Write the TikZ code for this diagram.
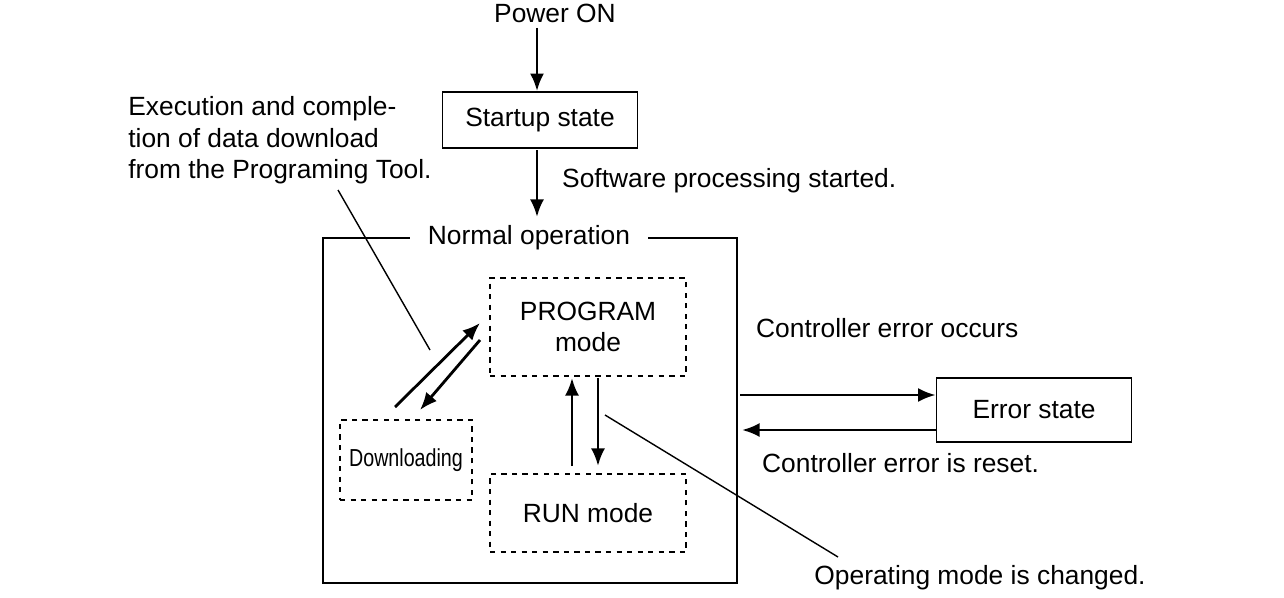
\documentclass[tikz,border=0pt]{standalone}
\usepackage{fontspec}
\setmainfont{Liberation Sans}
\usetikzlibrary{arrows.meta,positioning}
\begin{document}
\begin{tikzpicture}[x=0.02cm,y=-0.02cm,
    every node/.style={font=\fontsize{15}{18}\selectfont},
    state/.style={draw, line width=1pt, minimum width=3.9cm, minimum height=1.12cm},
    mode/.style={draw, dashed, line width=1pt, align=center},
    flow/.style={line width=1.6pt, -{Latex[length=10pt,width=8pt]}},
    leader/.style={line width=0.8pt}]
  \useasboundingbox (0,0) rectangle (1284,598);

  % Start-up
  \node (power) at (555,13) {Power ON};
  \node[state] (startup) at (540,120) {Startup state};
  \coordinate (p1) at (537,28);
  \coordinate (s1) at (537,150);
  \coordinate (n1) at (537,217);
  \draw[flow] (p1) -- (startup.north -| p1);
  \draw[flow] (s1) -- (n1);
  \node[anchor=west] (swtext) at (556,181) {Software processing started.};
  \node[anchor=north west, align=left, inner sep=0pt] (dltext) at (128,96)
    {Execution and comple-\\tion of data download\\from the Programing Tool.};

  % Normal operation
  \draw[line width=1pt] (323,238) rectangle (737,583);
  \node[fill=white, inner xsep=10pt, inner ysep=1pt] (normal) at (529,238) {Normal operation};
  \node[mode, minimum width=3.92cm, minimum height=1.96cm] (program) at (588,327) {PROGRAM\\mode};
  \node[mode, minimum width=3.92cm, minimum height=1.56cm] (run) at (588,513) {RUN mode};
  \node[mode, minimum width=2.64cm, minimum height=1.6cm,
        font=\fontsize{14}{16}\selectfont] (download) at (406,460) {\scalebox{0.8}[1]{Downloading}};

  % Mode changes
  \coordinate (d1) at (395,407);  \coordinate (g1) at (480,323);
  \coordinate (g2) at (480,340);  \coordinate (d2) at (420,410);
  \draw[flow] (d1) -- (g1);
  \draw[flow] (g2) -- (d2);
  \coordinate (r1) at (572,466);  \coordinate (r2) at (572,378);
  \coordinate (r3) at (598,378);  \coordinate (r4) at (598,466);
  \draw[flow] (r1) -- (r2);
  \draw[flow] (r3) -- (r4);
  \coordinate (l1) at (338,190);  \coordinate (l2) at (430,350);
  \draw[leader] (l1) -- (l2);
  \coordinate (m1) at (605,415);  \coordinate (m2) at (838,557);
  \draw[leader] (m1) -- (m2);
  \node (optext) at (980,578) {Operating mode is changed.};

  % Error state
  \node[state, minimum width=3.9cm, minimum height=1.28cm] (error) at (1034,410) {Error state};
  \coordinate (e1) at (740,395);  \coordinate (e2) at (742,430);
  \draw[flow] (e1) -- (error.west |- e1);
  \draw[flow] (error.west |- e2) -- (e2);
  \node[anchor=west] (occurs) at (750,328) {Controller error occurs};
  \node[anchor=west] (reset) at (756,463) {Controller error is reset.};
\end{tikzpicture}
\end{document}
